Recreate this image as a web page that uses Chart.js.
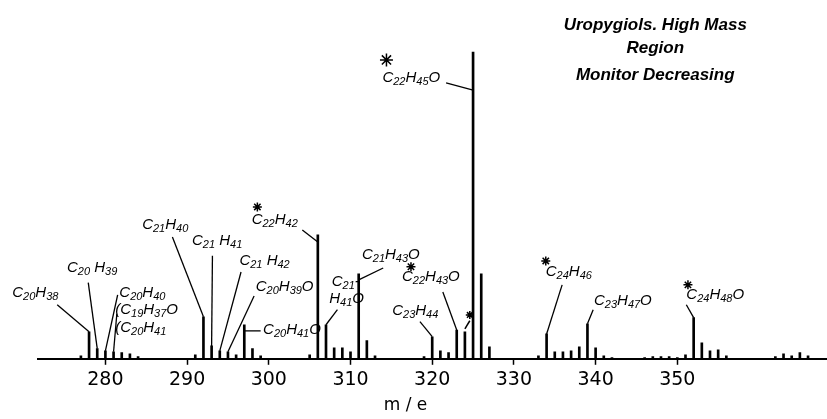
<!DOCTYPE html>
<html>
<head>
<meta charset="utf-8">
<script src="https://cdn.jsdelivr.net/npm/chart.js@4/dist/chart.umd.min.js"></script>
<style>
  html, body { margin: 0; padding: 0; background: #fff; }
  #wrap { width: 827px; height: 419px; }
</style>
</head>
<body>
<div id="wrap"><canvas id="chart" width="827" height="419"></canvas></div>
<script>
// peaks: m/e and relative intensity (base peak m/e 325 = 100)
const masses = [
  277, 278, 279, 280, 281, 282, 283, 284,
  291, 292, 293, 294, 295, 296, 297, 298, 299,
  305, 306, 307, 308, 309, 310, 311, 312, 313,
  319, 320, 321, 322, 323, 324, 325, 326, 327,
  333, 334, 335, 336, 337, 338, 339, 340, 341, 342,
  346, 347, 348, 349, 350, 351, 352, 353, 354, 355, 356,
  362, 363, 364, 365, 366
];
const intensities = [
  1.0, 8.8, 3.3, 2.6, 2.3, 2.0, 1.6, 0.7,
  1.3, 13.7, 4.2, 2.6, 2.3, 1.3, 11.1, 3.3, 1.0,
  1.3, 40.4, 11.1, 3.6, 3.6, 2.3, 27.7, 5.9, 1.0,
  0.7, 7.2, 2.6, 2.0, 9.4, 8.8, 100, 27.7, 3.9,
  1.0, 8.1, 2.3, 2.3, 2.6, 3.9, 11.4, 3.6, 1.0, 0.4,
  0.4, 0.7, 0.7, 0.7, 0.4, 1.3, 13.4, 5.2, 2.6, 2.9, 1.0,
  0.7, 1.6, 1.0, 2.0, 1.0
];
const tickValues = [280, 290, 300, 310, 320, 330, 340, 350];
const titleLines = ["Uropygiols. High Mass", "Region", "Monitor Decreasing"];

// formula labels and the peak each one points at (null = no leader line)
const labelTexts = [
  "C20H38", "C20 H39", "C20H40", "(C19H37O", "(C20H41",
  "C21H40", "C21 H41", "C21 H42", "C20H39O", "C20H41O",
  "C22H42", "C21-", "H41O", "C21H43O", "C22H43O",
  "C23H44", "C22H45O", "C24H46", "C23H47O", "C24H48O"
];
const labelPeaks = [
  278, 279, 280, null, 281,
  292, 293, 294, 295, 297,
  306, null, 307, 311, 323,
  320, 325, 334, 339, 352
];

// where labels sit, in axis units [m/e, intensity]
const labelLayout = [
  { at: [268.6, 21.5], from: [274.1, 17.6] },
  { at: [275.3, 29.6], from: [277.9, 24.8] },
  { at: [281.7, 21.5], from: [281.5, 20.8] },
  { at: [281.2, 16.0] },
  { at: [281.2, 10.1], from: [281.4, 14.7] },
  { at: [284.5, 43.6], from: [288.2, 39.7] },
  { at: [290.6, 38.4], from: [293.1, 33.6] },
  { at: [296.4, 31.9], from: [296.6, 28.3] },
  { at: [298.4, 23.5], from: [298.2, 20.5] },
  { at: [299.3, 9.45], from: [299.0, 9.1], toV: 9.1 },
  { at: [297.9, 45.3], from: [304.1, 42.0], toV: 38.1, star: [298.6, 49.5] },
  { at: [307.7, 25.1] },
  { at: [307.4, 19.5], from: [308.4, 16.0] },
  { at: [311.4, 33.9], from: [314.0, 29.6], toV: 25.7 },
  { at: [316.3, 26.7], from: [321.3, 21.8], star: [317.4, 30.0] },
  { at: [315.1, 15.6], from: [318.5, 12.1] },
  { at: [313.9, 91.5], from: [321.7, 89.9], toV: 87.6, star: [314.4, 97.4], big: true },
  { at: [333.9, 28.3], from: [335.9, 24.1], star: [333.9, 31.9] },
  { at: [339.8, 18.9], from: [339.7, 16.0] },
  { at: [351.1, 20.8], from: [351.1, 17.6], star: [351.3, 24.1] }
];
const loneStar = { peak: 324, star: [324.6, 14.3], from: [324.6, 12.4] };
const titleAt = [347.3, [108.8, 101.3, 92.5]];

const LETTER_FONT = "italic 15px 'Liberation Sans'";
const SUB_FONT = "italic 11px 'Liberation Sans'";

function drawFormula(ctx, text, x, y) {
  ctx.textBaseline = "middle";
  ctx.textAlign = "left";
  for (const ch of text) {
    const isSub = ch >= "0" && ch <= "9";
    ctx.font = isSub ? SUB_FONT : LETTER_FONT;
    ctx.fillText(ch, x, isSub ? y + 4 : y);
    x += ctx.measureText(ch).width;
  }
}

function drawStar(ctx, cx, cy, r) {
  ctx.beginPath();
  for (let i = 0; i < 4; i++) {
    const a = (i * Math.PI) / 4;
    ctx.moveTo(cx - r * Math.sin(a), cy - r * Math.cos(a));
    ctx.lineTo(cx + r * Math.sin(a), cy + r * Math.cos(a));
  }
  ctx.stroke();
}

const peakValue = (m) => intensities[masses.indexOf(m)];

const annotations = {
  id: "annotations",
  afterDatasetsDraw(chart) {
    const { ctx, scales: { x, y } } = chart;
    ctx.save();
    ctx.fillStyle = "#000";
    ctx.strokeStyle = "#000";
    ctx.lineWidth = 1.3;

    labelTexts.forEach((text, i) => {
      const lay = labelLayout[i];
      drawFormula(ctx, text, x.getPixelForValue(lay.at[0]), y.getPixelForValue(lay.at[1]));
      if (lay.from && labelPeaks[i] != null) {
        const m = labelPeaks[i];
        const v = lay.toV != null ? lay.toV : peakValue(m);
        ctx.beginPath();
        ctx.moveTo(x.getPixelForValue(lay.from[0]), y.getPixelForValue(lay.from[1]));
        ctx.lineTo(x.getPixelForValue(m), y.getPixelForValue(v));
        ctx.stroke();
      }
      if (lay.star) {
        ctx.lineWidth = 1.5;
        drawStar(ctx, x.getPixelForValue(lay.star[0]), y.getPixelForValue(lay.star[1]), lay.big ? 6.5 : 4.5);
        ctx.lineWidth = 1.3;
      }
    });

    ctx.lineWidth = 1.5;
    drawStar(ctx, x.getPixelForValue(loneStar.star[0]), y.getPixelForValue(loneStar.star[1]), 4);
    ctx.beginPath();
    ctx.moveTo(x.getPixelForValue(loneStar.from[0]), y.getPixelForValue(loneStar.from[1]));
    ctx.lineTo(x.getPixelForValue(loneStar.peak), y.getPixelForValue(peakValue(loneStar.peak)) - 3);
    ctx.stroke();

    ctx.font = "italic bold 17px 'Liberation Sans'";
    ctx.textAlign = "center";
    ctx.textBaseline = "middle";
    titleLines.forEach((line, i) => {
      ctx.fillText(line, x.getPixelForValue(titleAt[0]), y.getPixelForValue(titleAt[1][i]));
    });
    ctx.restore();
  }
};

new Chart(document.getElementById("chart"), {
  type: "bar",
  data: {
    datasets: [{
      data: masses.map((m, i) => ({ x: m, y: intensities[i] })),
      backgroundColor: "#000",
      barThickness: 2
    }]
  },
  options: {
    responsive: false,
    animation: false,
    layout: { padding: { left: 38, right: 0, top: 0, bottom: 0 } },
    plugins: { legend: { display: false }, tooltip: { enabled: false } },
    scales: {
      x: {
        type: "linear",
        min: 271.75,
        max: 368.32,
        offset: false,
        afterBuildTicks: (scale) => { scale.ticks = tickValues.map((v) => ({ value: v })); },
        grid: { drawOnChartArea: false, drawTicks: true, tickLength: 6, tickWidth: 1.5, tickColor: "#000", offset: false },
        border: { display: true, color: "#000", width: 2 },
        ticks: { color: "#000", font: { family: "DejaVu Sans", size: 19 }, padding: 4, autoSkip: false, maxRotation: 0 },
        title: {
          display: true,
          text: "m / e" + " ".repeat(10),
          color: "#000",
          font: { family: "DejaVu Sans", size: 17 },
          padding: { top: 0, bottom: 3 }
        }
      },
      y: { display: false, min: 0, max: 116.94 }
    }
  },
  plugins: [annotations]
});
</script>
</body>
</html>
